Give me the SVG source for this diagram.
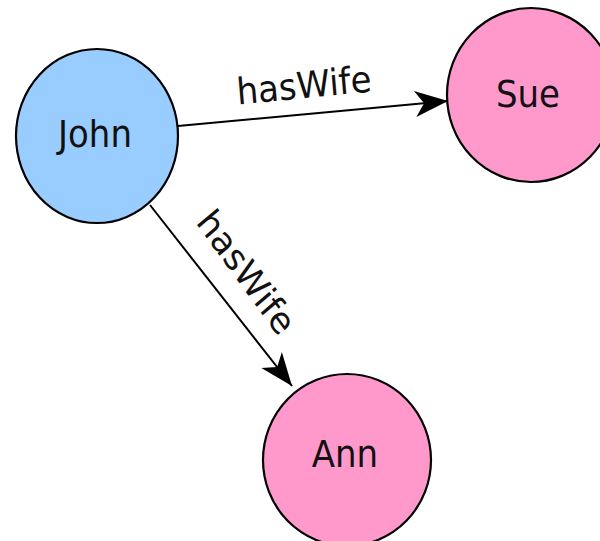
<svg xmlns="http://www.w3.org/2000/svg" width="600" height="541" viewBox="0 0 600 541">
<defs>
<style>
.node{stroke:#000;stroke-width:2.2}
.john{fill:#99ccff}
.wife{fill:#ff99cc}
.lbl{font-family:"DejaVu Sans",sans-serif;font-size:34px;fill:#111;text-anchor:middle}
.edge{stroke:#000;stroke-width:2;fill:none;marker-end:url(#arr)}
</style>
<marker id="arr" markerUnits="userSpaceOnUse" viewBox="-34 -15 36 30" markerWidth="36" markerHeight="30" refX="0" refY="0" orient="auto">
<path d="M0,0 L-33,-13 L-24,0 L-33,13 Z" fill="#000"/>
</marker>
</defs>
<rect width="600" height="541" fill="#fff"/>
<g id="connectors">
<path class="edge" d="M178,126 L448,101"/>
<text class="lbl" x="305" y="98" transform="matrix(1,0,0,1.08,0,-7.84) rotate(-5.2 305 98)">hasWife</text>
<path class="edge" d="M150,205 L292,386"/>
<text class="lbl" x="237" y="280" transform="matrix(1,0,0,1.08,0,-22.4) rotate(51.8 237 280)">hasWife</text>
</g>
<g id="john">
<ellipse class="node john" cx="97" cy="136" rx="81" ry="87"/>
<text class="lbl" x="95" y="147" transform="matrix(1,0,0,1.08,0,-11.76)">John</text>
</g>
<g id="sue">
<ellipse class="node wife" cx="531" cy="95" rx="84" ry="87"/>
<text class="lbl" x="528" y="107" transform="matrix(1,0,0,1.08,0,-8.56)">Sue</text>
</g>
<g id="ann">
<ellipse class="node wife" cx="347" cy="460" rx="84" ry="86"/>
<text class="lbl" x="345" y="467" transform="matrix(1,0,0,1.08,0,-37.36)">Ann</text>
</g>
</svg>
